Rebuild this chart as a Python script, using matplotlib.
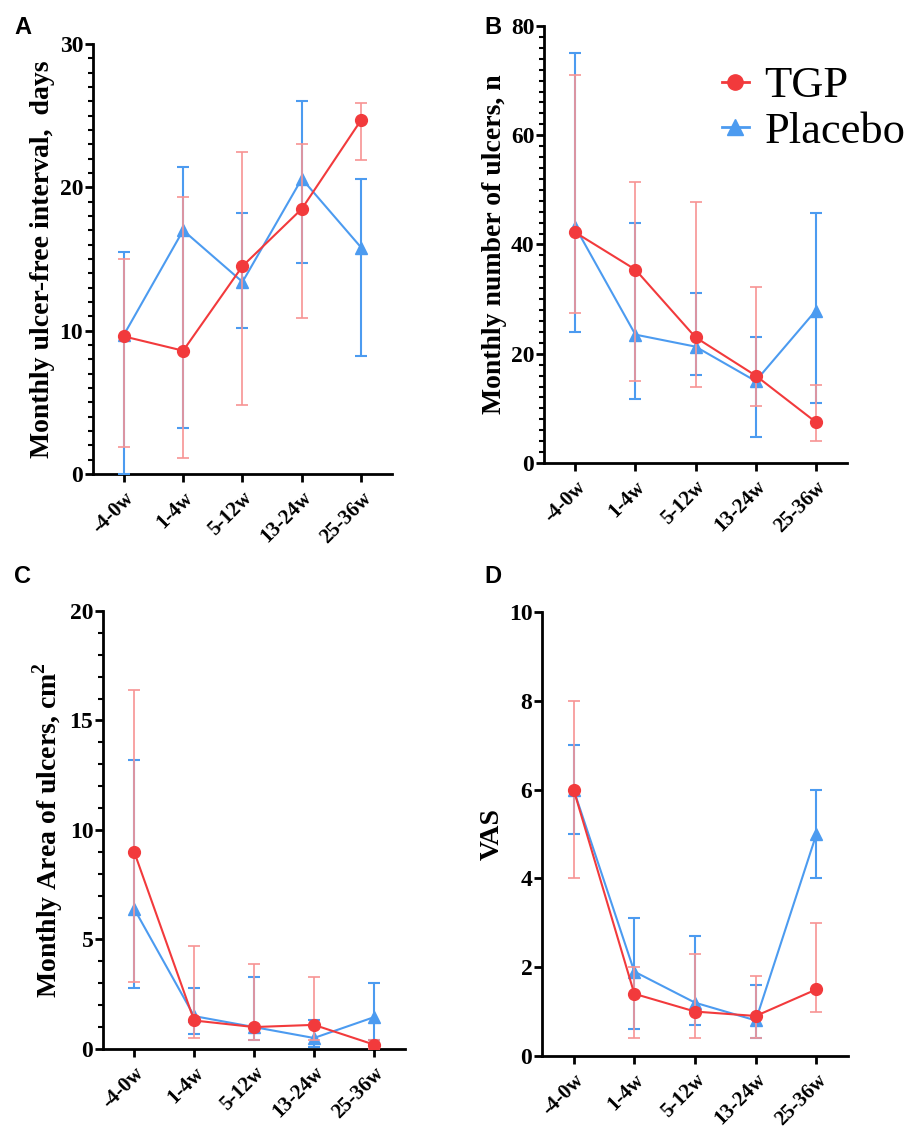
import numpy as np
import matplotlib
matplotlib.use("Agg")
import matplotlib.pyplot as plt
from matplotlib.ticker import MultipleLocator
from matplotlib.lines import Line2D

plt.rcParams["font.family"] = ["Liberation Serif", "DejaVu Serif"]
plt.rcParams["mathtext.fontset"] = "custom"
plt.rcParams["mathtext.rm"] = "Liberation Serif"
plt.rcParams["mathtext.bf"] = "Liberation Serif:bold"

# ---- data (median with lower / upper bounds) ----
periods = ["-4-0w", "1-4w", "5-12w", "13-24w", "25-36w"]

# A: ulcer-free interval, days
a_tgp = [9.6, 8.6, 14.5, 18.5, 24.7]
a_tgp_lo = [1.9, 1.1, 4.8, 10.9, 21.9]
a_tgp_hi = [15.0, 19.3, 22.5, 23.0, 25.9]
a_pla = [9.7, 17.0, 13.4, 20.6, 15.8]
a_pla_lo = [0.0, 3.2, 10.2, 14.7, 8.2]
a_pla_hi = [15.5, 21.4, 18.2, 26.0, 20.6]

# B: number of ulcers
b_tgp = [42.2, 35.4, 23.0, 16.0, 7.5]
b_tgp_lo = [27.4, 15.0, 13.9, 10.4, 4.1]
b_tgp_hi = [71.0, 51.4, 47.7, 32.2, 14.3]
b_pla = [43.2, 23.5, 21.3, 15.0, 27.9]
b_pla_lo = [24.0, 11.8, 16.1, 4.8, 10.9]
b_pla_hi = [75.0, 44.0, 31.1, 23.0, 45.7]

# C: area of ulcers, cm2
c_tgp = [9.0, 1.3, 1.0, 1.1, 0.2]
c_tgp_lo = [3.07, 0.5, 0.4, 0.4, 0.0]
c_tgp_hi = [16.4, 4.7, 3.9, 3.3, 0.4]
c_pla = [6.4, 1.5, 1.0, 0.5, 1.45]
c_pla_lo = [2.8, 0.7, 0.4, 0.1, 0.4]
c_pla_hi = [13.2, 2.8, 3.3, 1.3, 3.0]

# D: VAS
d_tgp = [6.0, 1.4, 1.0, 0.9, 1.5]
d_tgp_lo = [4.0, 0.4, 0.4, 0.4, 1.0]
d_tgp_hi = [8.0, 2.0, 2.3, 1.8, 3.0]
d_pla = [6.0, 1.9, 1.2, 0.8, 5.0]
d_pla_lo = [5.0, 0.6, 0.7, 0.4, 4.0]
d_pla_hi = [7.0, 3.1, 2.7, 1.6, 6.0]

red = "#F23A3C"
red_err = "#F79494"
blue = "#4C9BF0"

W, H = 907, 1129

panels = [
    # letter, axes pos, letter top (px), ylabel, ymax, major, minor, data
    ("A", [0.1025, 0.5802, 0.3297, 0.3808], 16, "Monthly ulcer-free interval,  days",
     30, 10, 1, (a_tgp, a_tgp_lo, a_tgp_hi, a_pla, a_pla_lo, a_pla_hi)),
    ("B", [0.5998, 0.5899, 0.3341, 0.3871], 16, "Monthly number of ulcers, n",
     80, 20, 2, (b_tgp, b_tgp_lo, b_tgp_hi, b_pla, b_pla_lo, b_pla_hi)),
    ("C", [0.1136, 0.0709, 0.3330, 0.3879], 565, "Monthly Area of ulcers, cm$^{\\mathbf{2}}$",
     20, 5, 1, (c_tgp, c_tgp_lo, c_tgp_hi, c_pla, c_pla_lo, c_pla_hi)),
    ("D", [0.5976, 0.0647, 0.3374, 0.3933], 565, "VAS",
     10, 2, None, (d_tgp, d_tgp_lo, d_tgp_hi, d_pla, d_pla_lo, d_pla_hi)),
]

fig = plt.figure(figsize=(W / 100, H / 100), dpi=100)
x = np.arange(len(periods))

for letter, pos, ltop, ylabel, ymax, major, minor, data in panels:
    tgp, tgp_lo, tgp_hi, pla, pla_lo, pla_hi = [np.array(d) for d in data]
    ax = fig.add_axes(pos)

    # placebo first, TGP drawn on top
    ax.errorbar(x, pla, yerr=[pla - pla_lo, pla_hi - pla], color=blue,
                ecolor=blue, elinewidth=1.5, capsize=4, capthick=1.5,
                marker="^", markersize=8, linewidth=1.5, zorder=3)
    ax.errorbar(x, tgp, yerr=[tgp - tgp_lo, tgp_hi - tgp], color=red,
                ecolor=red_err, elinewidth=1.2, capsize=4, capthick=1.2,
                marker="o", markersize=8.5, linewidth=1.5, zorder=4)

    ax.set_xlim(-0.52, 4.52)
    ax.set_ylim(0, ymax)
    ax.yaxis.set_major_locator(MultipleLocator(major))
    if minor:
        ax.yaxis.set_minor_locator(MultipleLocator(minor))
    ax.set_xticks(x)
    ax.set_xticklabels(periods, rotation=45, ha="right", rotation_mode="anchor",
                       fontsize=15, fontweight="bold")
    for lab in ax.get_yticklabels():
        lab.set_fontsize(17)
        lab.set_fontweight("bold")

    for s in ["top", "right"]:
        ax.spines[s].set_visible(False)
    for s in ["left", "bottom"]:
        ax.spines[s].set_linewidth(2)
    ax.tick_params(axis="y", which="major", length=6, width=2, pad=1)
    ax.tick_params(axis="y", which="minor", length=3.5, width=1.5)
    ax.tick_params(axis="x", which="major", length=6, width=2, pad=4)

    ax.set_ylabel(ylabel, fontsize=20, fontweight="bold", labelpad=3)

    lx = 14 if letter in "AC" else 484
    fig.text(lx / W, 1 - ltop / H, letter, fontsize=17, fontweight="bold",
             family="Liberation Sans", va="top", ha="left")

# legend (plain line + marker handles)
handles = [
    Line2D([], [], color=red, marker="o", markersize=11, linewidth=2),
    Line2D([], [], color=blue, marker="^", markersize=11, linewidth=2),
]
fig.legend(handles, ["TGP", "Placebo"], loc="upper left",
           bbox_to_anchor=(722 / W, 1 - 66 / H), frameon=False, fontsize=32,
           handlelength=0.6, handletextpad=0.35, labelspacing=0.12,
           borderaxespad=0, borderpad=0)

fig.savefig("out.png", dpi=100)
